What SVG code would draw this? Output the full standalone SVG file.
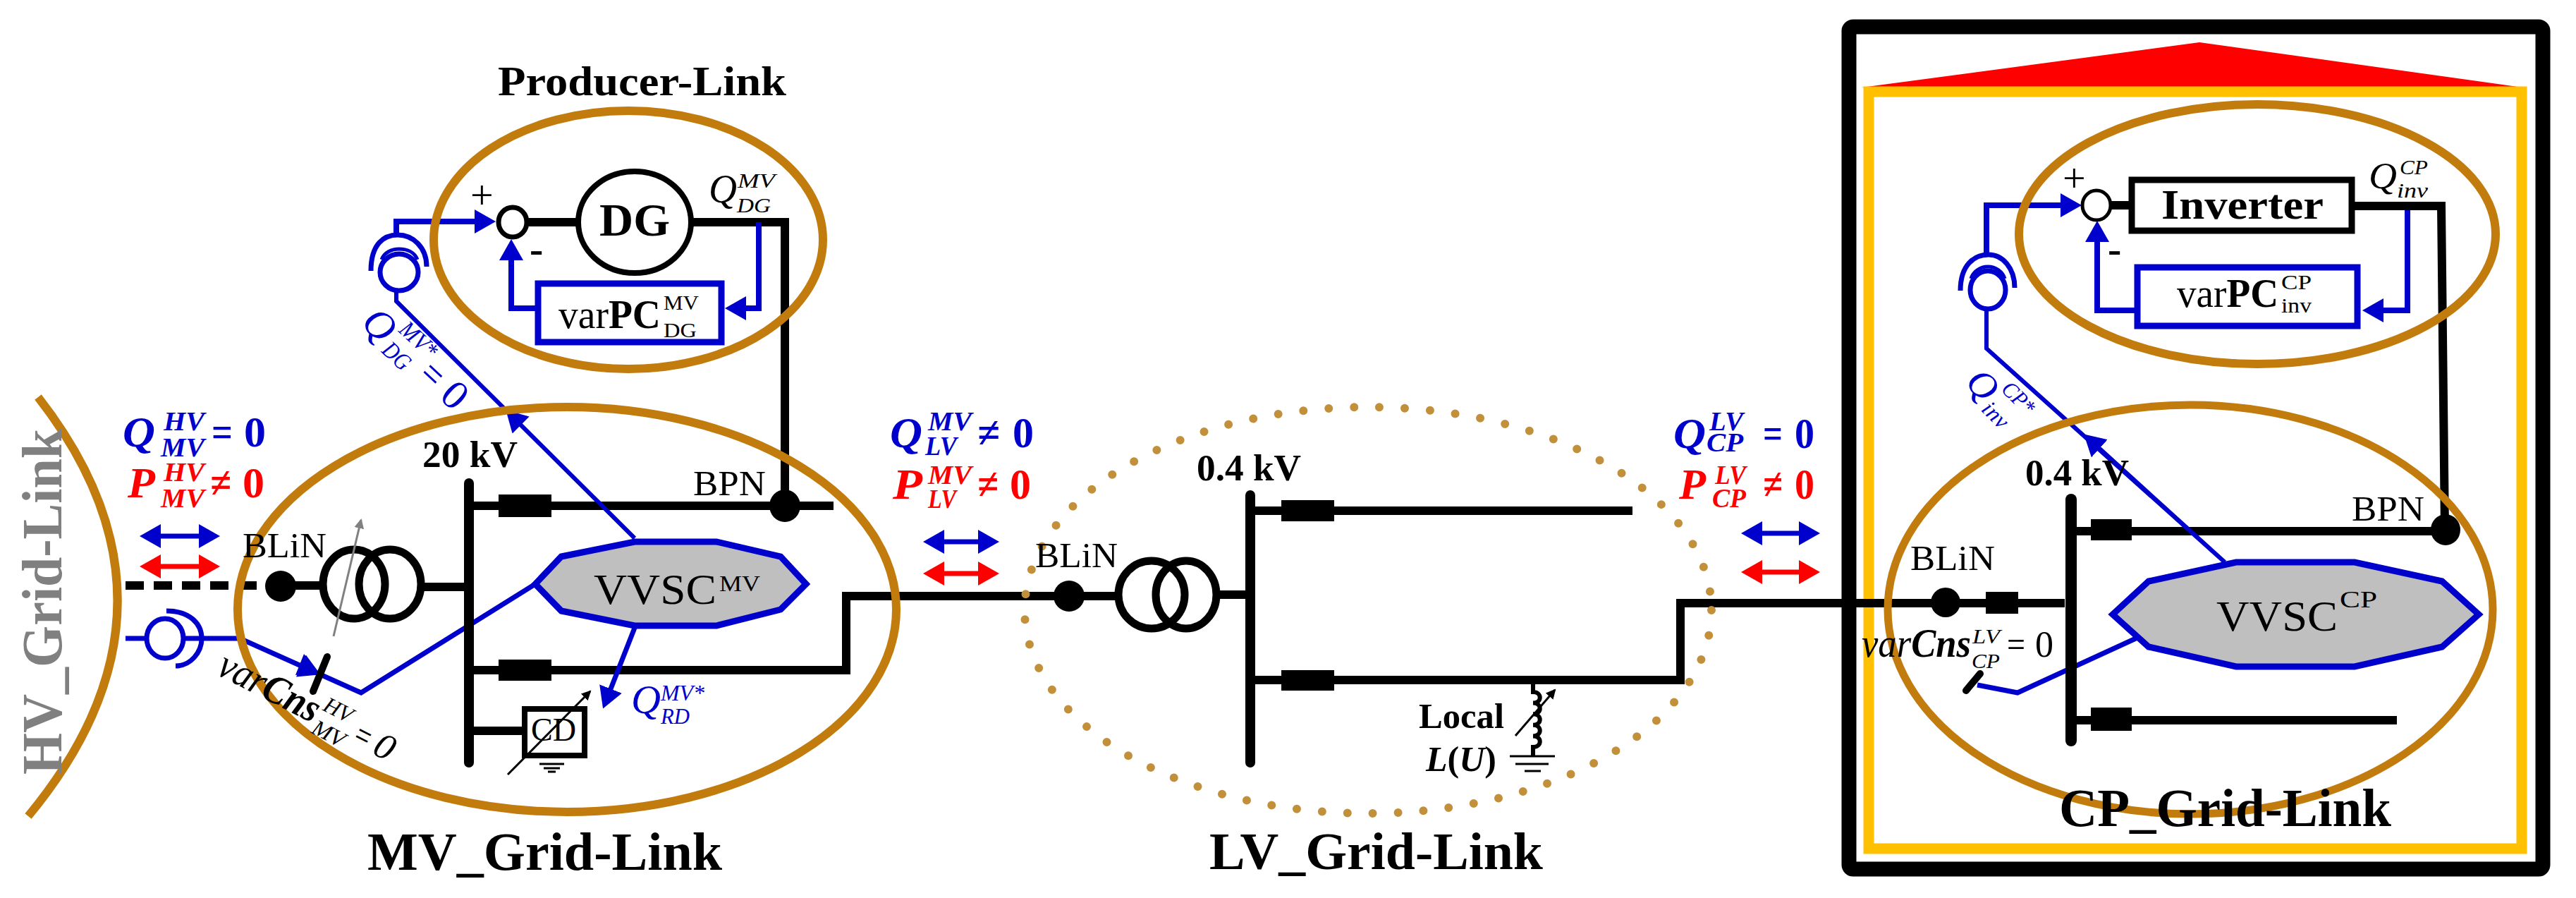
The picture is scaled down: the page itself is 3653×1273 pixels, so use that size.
<svg xmlns="http://www.w3.org/2000/svg" width="3653" height="1273" viewBox="0 0 3653 1273">
<style>
text{font-family:"Liberation Serif","Times New Roman",serif;fill:#000}
.b{font-weight:700}
.i{font-style:italic}
.bl{fill:#00c}
.re{fill:#f00}
.k{fill:none;stroke:#000;stroke-width:12}
.kf{fill:#000;stroke:none}
.u{fill:none;stroke:#00c;stroke-width:7}
.g{fill:none;stroke:#c27c0e;stroke-width:12}
.th{fill:none;stroke:#000;stroke-width:3}
.m{font-size:62px}
.s{font-size:38px}
.vv{fill:#bfbfbf;stroke:#00c;stroke-width:9}
.bx{fill:#fff;stroke:#00c;stroke-width:9}
</style>
<defs>
<marker id="ab" markerUnits="userSpaceOnUse" markerWidth="32" markerHeight="34" refX="22" refY="17" orient="auto-start-reverse"><path d="M0 0L30 17L0 34Z" fill="#00c"/></marker>
<marker id="ar" markerUnits="userSpaceOnUse" markerWidth="32" markerHeight="34" refX="22" refY="17" orient="auto-start-reverse"><path d="M0 0L30 17L0 34Z" fill="#f00"/></marker>
<marker id="at" markerUnits="userSpaceOnUse" markerWidth="16" markerHeight="14" refX="12" refY="7" orient="auto"><path d="M0 0L14 7L0 14Z" fill="#000"/></marker>
<marker id="ag" markerUnits="userSpaceOnUse" markerWidth="16" markerHeight="14" refX="12" refY="7" orient="auto"><path d="M0 0L14 7L0 14Z" fill="#808080"/></marker>
</defs>

<g id="cp-frame">
<rect x="2622" y="38" width="984" height="1194" rx="6" fill="none" stroke="#000" stroke-width="21"/>
<polygon points="2640,124 3119,60 3577,124" fill="#f00"/>
<rect x="2650" y="130" width="926" height="1073" fill="none" stroke="#ffc000" stroke-width="15"/>
</g>

<g id="connectors">
<path class="k" d="M750 315H817M983 315H1113V717"/>
<path class="k" d="M663 717H1182" />
<path class="k" stroke-dasharray="26 14" d="M178 830H369" stroke-width="13"/>
<path class="k" d="M398 830H454M599 832H663M663 1036H740"/>
<path class="k" d="M663 950H1200V845H1581"/>
<path class="k" d="M1730 843H1773M1773 724H2315M1773 964H2383V855H2928"/>
<path class="k" d="M2945 753H3468M2945 1021H3399"/>
<path class="k" d="M2993 291H3019M3339 292H3462L3467 751"/>
<path class="th" d="M2174 964V981c13 0 13 15.600 0 15.600c13 0 13 15.600 0 15.600c13 0 13 15.600 0 15.600c13 0 13 15.600 0 15.600c13 0 13 15.600 0 15.600V1072" style="stroke-width:6"/>
<line x1="2149" y1="1043" x2="2205" y2="978" class="th" marker-end="url(#at)"/>
<path class="th" d="M2141 1072H2205M2149 1083H2196M2162 1093H2185"/>
<path class="th" d="M765 1083H800M771 1089H794M777 1094H788"/>

<path class="u" d="M1076 315V437H1036" marker-end="url(#ab)" style="stroke-width:8"/>
<path class="u" d="M759 437H725V347" marker-end="url(#ab)" style="stroke-width:8"/>
<path class="u" d="M562 333V314H695" marker-end="url(#ab)" style="stroke-width:8"/>
<path class="u" d="M562 413V427L900 763L723 587" marker-end="url(#ab)" style="stroke-width:6"/>
<path class="u" d="M178 905H206M286 905H340L444 977L512 982L759 828" style="display:none"/>
<path class="u" d="M178 905H206M261 905H340L512 982L759 828"/>
<path class="u" d="M340 905L447 953" marker-end="url(#ab)" style="stroke:none"/>
<path class="u" d="M900 890L858 997" marker-end="url(#ab)"/>
<path class="u" d="M3414 298V440H3358" marker-end="url(#ab)" style="stroke-width:8"/>
<path class="u" d="M3027 440H2974V321" marker-end="url(#ab)" style="stroke-width:8"/>
<path class="u" d="M2817 361V291H2944" marker-end="url(#ab)" style="stroke-width:8"/>
<path class="u" d="M2817 439V494L3155 797L2961 621" marker-end="url(#ab)" style="stroke-width:6"/>
<path class="u" d="M2804 971L2861 982L3031 904"/>
<line x1="206" y1="760" x2="304" y2="760" stroke="#00c" stroke-width="7" marker-start="url(#ab)" marker-end="url(#ab)"/>
<line x1="206" y1="803" x2="304" y2="803" stroke="#f00" stroke-width="7" marker-start="url(#ar)" marker-end="url(#ar)"/>
<line x1="1317" y1="768" x2="1409" y2="768" stroke="#00c" stroke-width="7" marker-start="url(#ab)" marker-end="url(#ab)"/>
<line x1="1317" y1="813" x2="1409" y2="813" stroke="#f00" stroke-width="7" marker-start="url(#ar)" marker-end="url(#ar)"/>
<line x1="2477" y1="756" x2="2573" y2="756" stroke="#00c" stroke-width="7" marker-start="url(#ab)" marker-end="url(#ab)"/>
<line x1="2477" y1="811" x2="2573" y2="811" stroke="#f00" stroke-width="7" marker-start="url(#ar)" marker-end="url(#ar)"/>
<polygon points="452,953 431,927 419,957" fill="#00c"/>
</g>

<g id="hv-grid-link">
<path class="g" d="M54 563Q293 860 40 1157" style="display:none"/>
<path class="g" d="M54 563Q286 860 40 1157"/>
<text class="b" font-size="80" fill="#808080" style="fill:#808080" transform="translate(87 1098) rotate(-90)" textLength="490" lengthAdjust="spacingAndGlyphs">HV_Grid-Link</text>
</g>

<g id="producer-link">
<ellipse class="g" cx="891" cy="340" rx="276" ry="183"/>
<text class="b" x="706" y="135" font-size="60" textLength="409" lengthAdjust="spacingAndGlyphs">Producer-Link</text>
<ellipse cx="900" cy="315" rx="80" ry="72" fill="#fff" stroke="#000" stroke-width="8"/>
<text class="b" x="850" y="334" font-size="65" textLength="100" lengthAdjust="spacingAndGlyphs">DG</text>
<ellipse cx="727" cy="315" rx="20" ry="21" fill="#fff" stroke="#000" stroke-width="7"/>
<text x="667" y="296" font-size="58">+</text>
<text class="b" x="751" y="372" font-size="58">-</text>
<rect class="bx" x="763" y="402" width="260" height="83"/>
<text x="792" y="465" font-size="58" textLength="145" lengthAdjust="spacingAndGlyphs">var<tspan class="b">PC</tspan></text>
<text x="941" y="439" font-size="30" textLength="50" lengthAdjust="spacingAndGlyphs">MV</text>
<text x="941" y="478" font-size="30" textLength="47" lengthAdjust="spacingAndGlyphs">DG</text>
<text class="i m" x="1005" y="287" font-size="56" style="font-size:56px" textLength="40" lengthAdjust="spacingAndGlyphs">Q</text>
<text class="i" x="1046" y="266" font-size="30" textLength="53" lengthAdjust="spacingAndGlyphs">MV</text>
<text class="i" x="1045" y="301" font-size="30" textLength="48" lengthAdjust="spacingAndGlyphs">DG</text>
</g>

<g id="sensor-dg">
<ellipse cx="566" cy="386" rx="27" ry="26" fill="none" stroke="#00c" stroke-width="7"/>
<path class="u" d="M526 384C526 345 545 333 564 333C585 333 605 350 605 378"/>
<path class="u" d="M541 368C545 358 555 353 566 353C578 353 588 358 592 368" style="stroke-width:5"/>
<g transform="translate(510 460) rotate(43)">
<text class="i bl" font-size="58" textLength="42" lengthAdjust="spacingAndGlyphs">Q</text>
<text class="i bl" x="46" y="-30" font-size="34" textLength="60" lengthAdjust="spacingAndGlyphs">MV*</text>
<text class="i bl" x="48" y="8" font-size="34" textLength="42" lengthAdjust="spacingAndGlyphs">DG</text>
<text class="bl" x="110" y="0" font-size="58" textLength="28" lengthAdjust="spacingAndGlyphs">=</text>
<text class="bl" x="152" y="0" font-size="58" textLength="30" lengthAdjust="spacingAndGlyphs">0</text>
</g>
</g>

<g id="mv-grid-link">
<ellipse class="g" cx="804" cy="864" rx="467" ry="287"/>
<text class="b" x="521" y="1233" font-size="76" textLength="503" lengthAdjust="spacingAndGlyphs">MV_Grid-Link</text>
<text class="b" x="599" y="662" font-size="52" textLength="135" lengthAdjust="spacingAndGlyphs">20 kV</text>
<text x="344" y="790" font-size="50" textLength="119" lengthAdjust="spacingAndGlyphs">BLiN</text>
<text x="986" y="705" font-size="50" style="display:none">BPN</text>
<text x="983" y="702" font-size="50" textLength="103" lengthAdjust="spacingAndGlyphs">BPN</text>
<rect x="658" y="678" width="14" height="410" rx="7" class="kf"/>
<rect x="707" y="701" width="75" height="32" class="kf"/>
<rect x="707" y="935" width="75" height="30" class="kf"/>
<ellipse cx="398" cy="831" rx="22" ry="22" class="kf"/>
<ellipse cx="1113" cy="717" rx="22" ry="23" class="kf"/>
<ellipse cx="502" cy="828" rx="44" ry="49" fill="none" stroke="#000" stroke-width="11"/>
<ellipse cx="553" cy="828" rx="44" ry="49" fill="none" stroke="#000" stroke-width="11"/>
<line x1="473" y1="902" x2="512" y2="737" class="th" style="stroke:#808080" marker-end="url(#ag)"/>
<polygon class="vv" points="759,828 796,789 900,768 1016,768 1107,789 1143,828 1107,864 1016,887 900,887 796,866"/>
<text x="842" y="856" font-size="62" textLength="174" lengthAdjust="spacingAndGlyphs">VVSC</text>
<text x="1020" y="838" font-size="32" textLength="58" lengthAdjust="spacingAndGlyphs">MV</text>
<rect x="744" y="1005" width="85" height="66" fill="none" stroke="#000" stroke-width="8"/>
<text x="753" y="1050" font-size="46" textLength="64" lengthAdjust="spacingAndGlyphs">CD</text>
<line x1="720" y1="1098" x2="837" y2="980" class="th" marker-end="url(#at)"/>
<text class="i bl" x="895" y="1011" font-size="58" textLength="42" lengthAdjust="spacingAndGlyphs">Q</text>
<text class="i bl" x="937" y="993" font-size="32" textLength="62" lengthAdjust="spacingAndGlyphs">MV*</text>
<text class="i bl" x="937" y="1026" font-size="32" textLength="41" lengthAdjust="spacingAndGlyphs">RD</text>
<line x1="464" y1="931" x2="444" y2="980" stroke="#000" stroke-width="10" stroke-linecap="round"/>
<ellipse cx="234" cy="905" rx="26" ry="28" fill="none" stroke="#00c" stroke-width="7"/>
<path class="u" d="M236 866C270 866 286 885 286 905C286 925 270 944 249 944"/>
<g transform="translate(305 955) rotate(27)">
<text class="i" font-size="58" textLength="155" lengthAdjust="spacingAndGlyphs">var<tspan class="b">Cns</tspan></text>
<text class="i" x="158" y="-23" font-size="32" textLength="42" lengthAdjust="spacingAndGlyphs">HV</text>
<text class="i" x="158" y="13" font-size="32" textLength="48" lengthAdjust="spacingAndGlyphs">MV</text>
<text class="i" x="214" y="0" font-size="52" textLength="26" lengthAdjust="spacingAndGlyphs">=</text>
<text class="i" x="248" y="0" font-size="52" textLength="27" lengthAdjust="spacingAndGlyphs">0</text>
</g>
</g>

<g id="label-hv-mv">
<text class="i b bl m" x="174" y="633" textLength="46" lengthAdjust="spacingAndGlyphs">Q</text>
<text class="i b bl s" x="232" y="610" textLength="58" lengthAdjust="spacingAndGlyphs">HV</text>
<text class="i b bl s" x="228" y="647" textLength="62" lengthAdjust="spacingAndGlyphs">MV</text>
<text class="b bl m" x="300" y="633" textLength="30" lengthAdjust="spacingAndGlyphs">=</text>
<text class="b bl m" x="346" y="633" textLength="31" lengthAdjust="spacingAndGlyphs">0</text>
<text class="i b re m" x="181" y="705" textLength="39" lengthAdjust="spacingAndGlyphs">P</text>
<text class="i b re s" x="232" y="682" textLength="58" lengthAdjust="spacingAndGlyphs">HV</text>
<text class="i b re s" x="228" y="719" textLength="62" lengthAdjust="spacingAndGlyphs">MV</text>
<text class="b re m" x="298" y="705" textLength="30" lengthAdjust="spacingAndGlyphs">≠</text>
<text class="b re m" x="344" y="705" textLength="31" lengthAdjust="spacingAndGlyphs">0</text>
</g>

<g id="label-mv-lv">
<text class="i b bl m" x="1262" y="634" textLength="46" lengthAdjust="spacingAndGlyphs">Q</text>
<text class="i b bl s" x="1316" y="610" textLength="62" lengthAdjust="spacingAndGlyphs">MV</text>
<text class="i b bl s" x="1312" y="645" textLength="45" lengthAdjust="spacingAndGlyphs">LV</text>
<text class="b bl m" x="1386" y="634" textLength="32" lengthAdjust="spacingAndGlyphs">≠</text>
<text class="b bl m" x="1436" y="634" textLength="30" lengthAdjust="spacingAndGlyphs">0</text>
<text class="i b re m" x="1266" y="707" textLength="42" lengthAdjust="spacingAndGlyphs">P</text>
<text class="i b re s" x="1316" y="686" textLength="62" lengthAdjust="spacingAndGlyphs">MV</text>
<text class="i b re s" x="1316" y="720" textLength="40" lengthAdjust="spacingAndGlyphs">LV</text>
<text class="b re m" x="1386" y="707" textLength="30" lengthAdjust="spacingAndGlyphs">≠</text>
<text class="b re m" x="1432" y="707" textLength="30" lengthAdjust="spacingAndGlyphs">0</text>
</g>

<g id="lv-grid-link">
<ellipse cx="1940" cy="865" rx="487" ry="288" fill="none" stroke="#c28f3a" stroke-width="12" stroke-linecap="round" stroke-dasharray="0 36"/>
<text class="b" x="1715" y="1232" font-size="74" textLength="473" lengthAdjust="spacingAndGlyphs">LV_Grid-Link</text>
<text class="b" x="1697" y="681" font-size="52" textLength="148" lengthAdjust="spacingAndGlyphs">0.4 kV</text>
<text x="1468" y="804" font-size="50" textLength="117" lengthAdjust="spacingAndGlyphs">BLiN</text>
<rect x="1766" y="695" width="14" height="393" rx="7" class="kf"/>
<rect x="1817" y="709" width="75" height="30" class="kf"/>
<rect x="1817" y="950" width="75" height="29" class="kf"/>
<ellipse cx="1516" cy="845" rx="22" ry="22" class="kf"/>
<ellipse cx="1633" cy="843" rx="47" ry="48" fill="none" stroke="#000" stroke-width="11"/>
<ellipse cx="1682" cy="843" rx="43" ry="48" fill="none" stroke="#000" stroke-width="11"/>
<text class="b" x="2012" y="1032" font-size="50" textLength="121" lengthAdjust="spacingAndGlyphs">Local</text>
<text class="b" x="2022" y="1093" font-size="50" textLength="100" lengthAdjust="spacingAndGlyphs"><tspan class="i">L</tspan>(<tspan class="i">U</tspan>)</text>
</g>

<g id="label-lv-cp">
<text class="i b bl m" x="2373" y="635" textLength="46" lengthAdjust="spacingAndGlyphs">Q</text>
<text class="i b bl s" x="2424" y="610" textLength="48" lengthAdjust="spacingAndGlyphs">LV</text>
<text class="i b bl s" x="2420" y="640" textLength="52" lengthAdjust="spacingAndGlyphs">CP</text>
<text class="b bl m" x="2500" y="635" textLength="28" lengthAdjust="spacingAndGlyphs">=</text>
<text class="b bl m" x="2545" y="635" textLength="28" lengthAdjust="spacingAndGlyphs">0</text>
<text class="i b re m" x="2381" y="707" textLength="38" lengthAdjust="spacingAndGlyphs">P</text>
<text class="i b re s" x="2432" y="686" textLength="44" lengthAdjust="spacingAndGlyphs">LV</text>
<text class="i b re s" x="2428" y="719" textLength="48" lengthAdjust="spacingAndGlyphs">CP</text>
<text class="b re m" x="2500" y="707" textLength="28" lengthAdjust="spacingAndGlyphs">≠</text>
<text class="b re m" x="2545" y="707" textLength="28" lengthAdjust="spacingAndGlyphs">0</text>
</g>

<g id="inverter-link">
<ellipse class="g" cx="3201" cy="332" rx="338" ry="184"/>
<rect x="3023" y="255" width="312" height="72" fill="#fff" stroke="#000" stroke-width="9"/>
<text class="b" x="3065" y="310" font-size="60" textLength="230" lengthAdjust="spacingAndGlyphs">Inverter</text>
<ellipse cx="2973" cy="291" rx="20" ry="21" fill="#fff" stroke="#000" stroke-width="5"/>
<text x="2925" y="272" font-size="58">+</text>
<text class="b" x="2989" y="372" font-size="58">-</text>
<rect class="bx" x="3031" y="379" width="312" height="83"/>
<text x="3087" y="435" font-size="56" textLength="144" lengthAdjust="spacingAndGlyphs">var<tspan class="b">PC</tspan></text>
<text x="3235" y="410" font-size="30" textLength="43" lengthAdjust="spacingAndGlyphs">CP</text>
<text x="3235" y="443" font-size="30" textLength="43" lengthAdjust="spacingAndGlyphs">inv</text>
<text class="i" x="3359" y="267" font-size="52" textLength="40" lengthAdjust="spacingAndGlyphs">Q</text>
<text class="i" x="3403" y="247" font-size="30" textLength="40" lengthAdjust="spacingAndGlyphs">CP</text>
<text class="i" x="3399" y="280" font-size="30" textLength="44" lengthAdjust="spacingAndGlyphs">inv</text>
</g>

<g id="sensor-inv">
<ellipse cx="2819" cy="411" rx="25" ry="27" fill="none" stroke="#00c" stroke-width="7"/>
<path class="u" d="M2780 412C2780 375 2800 361 2820 361C2840 361 2857 380 2857 408"/>
<path class="u" d="M2795 395C2798 385 2808 378 2819 378C2830 378 2840 385 2843 395" style="stroke-width:5"/>
<g transform="translate(2785 544) rotate(45)">
<text class="i bl" font-size="54" textLength="40" lengthAdjust="spacingAndGlyphs">Q</text>
<text class="i bl" x="43" y="-30" font-size="32" textLength="52" lengthAdjust="spacingAndGlyphs">CP*</text>
<text class="i bl" x="43" y="10" font-size="32" textLength="40" lengthAdjust="spacingAndGlyphs">inv</text>
</g>
</g>

<g id="cp-grid-link">
<ellipse class="g" cx="3106" cy="848" rx="432" ry="0" style="display:none"/>
<ellipse class="g" cx="3106" cy="864" rx="429" ry="290" style="stroke-width:11"/>
<text class="b" x="2920" y="1171" font-size="76" textLength="471" lengthAdjust="spacingAndGlyphs">CP_Grid-Link</text>
<text class="b" x="2872" y="688" font-size="52" textLength="147" lengthAdjust="spacingAndGlyphs">0.4 kV</text>
<text x="2709" y="808" font-size="50" textLength="120" lengthAdjust="spacingAndGlyphs">BLiN</text>
<text x="3335" y="738" font-size="50" textLength="103" lengthAdjust="spacingAndGlyphs">BPN</text>
<rect x="2929" y="700" width="16" height="358" rx="8" class="kf"/>
<rect x="2965" y="736" width="58" height="30" class="kf"/>
<rect x="2965" y="1003" width="58" height="33" class="kf"/>
<rect x="2816" y="839" width="46" height="31" class="kf"/>
<ellipse cx="2759" cy="854" rx="21" ry="21" class="kf"/>
<ellipse cx="3468" cy="751" rx="21" ry="22" class="kf"/>
<polygon class="vv" points="2996,871 3047,824 3171,797 3339,797 3463,824 3515,871 3463,917 3339,945 3171,945 3047,917"/>
<text x="3143" y="894" font-size="62" textLength="172" lengthAdjust="spacingAndGlyphs">VVSC</text>
<text x="3318" y="861" font-size="34" textLength="53" lengthAdjust="spacingAndGlyphs">CP</text>
<line x1="2808" y1="955" x2="2788" y2="979" stroke="#000" stroke-width="10" stroke-linecap="round"/>
<text class="i" x="2640" y="931" font-size="58" textLength="155" lengthAdjust="spacingAndGlyphs">var<tspan class="b">Cns</tspan></text>
<text class="i" x="2797" y="912" font-size="30" textLength="39" lengthAdjust="spacingAndGlyphs">LV</text>
<text class="i" x="2796" y="947" font-size="30" textLength="40" lengthAdjust="spacingAndGlyphs">CP</text>
<text x="2846" y="931" font-size="52" textLength="26" lengthAdjust="spacingAndGlyphs">=</text>
<text x="2886" y="931" font-size="52" textLength="26" lengthAdjust="spacingAndGlyphs">0</text>
</g>
</svg>
